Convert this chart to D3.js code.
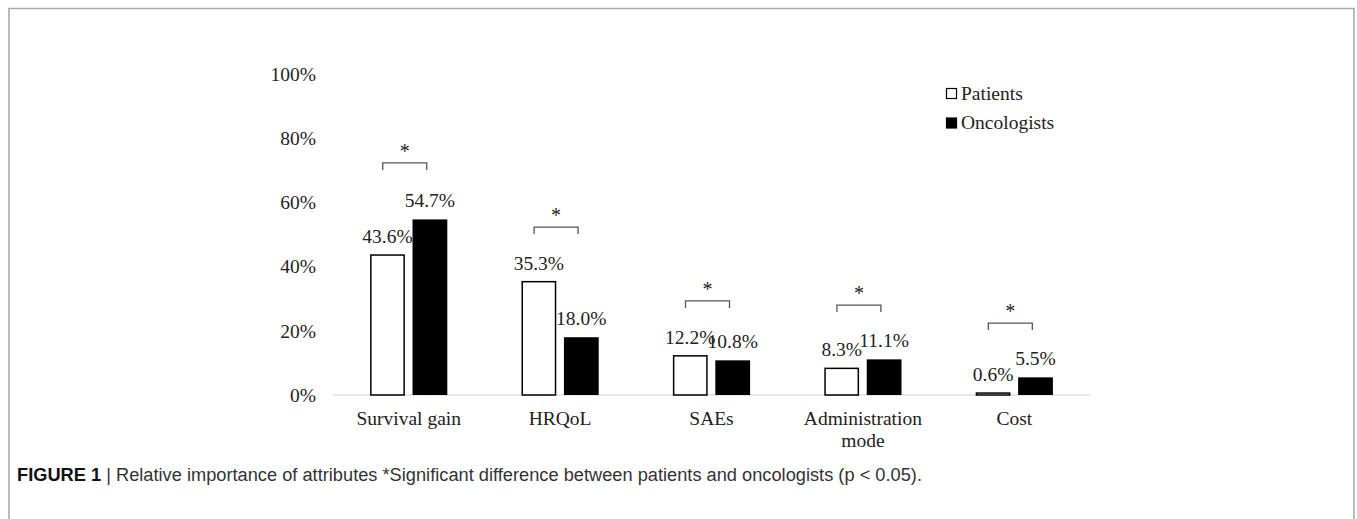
<!DOCTYPE html>
<html><head><meta charset="utf-8">
<script src="https://cdn.jsdelivr.net/npm/d3@7"></script>
<style>html,body{margin:0;padding:0;background:#fff;}</style>
</head><body>
<script>
const categories = ["Survival gain", "HRQoL", "SAEs", "Administration mode", "Cost"];
const series = ["Patients", "Oncologists"];
const patients = [43.6, 35.3, 12.2, 8.3, 0.6];
const oncologists = [54.7, 18.0, 10.8, 11.1, 5.5];
const yTicks = [0, 20, 40, 60, 80, 100];
const sigLevel = [72.3, 52.3, 29.3, 28.0, 22.4]; // bracket height, in % units
const caption = "Relative importance of attributes *Significant difference between patients and oncologists (p < 0.05).";

const W = 1357, H = 519;
const svg = d3.select("body").append("svg").attr("width", W).attr("height", H);
const serif = "'Liberation Serif','Times New Roman',serif";
const FS = 19.5;

// frame
svg.append("path").attr("d", `M9,${H} V8.5 H1354 V${H}`).attr("fill", "none")
  .attr("stroke", "#aaa").attr("stroke-width", 1.6);

const x0 = d3.scaleBand().domain(categories).range([333, 1090]).paddingInner(0.49).paddingOuter(0.245);
const x1 = d3.scaleBand().domain(series).range([0, x0.bandwidth()]).paddingInner(0.18);
const y = d3.scaleLinear().domain([0, 100]).range([395, 74]);

// y tick labels
svg.append("g").selectAll("text").data(yTicks).join("text")
  .attr("x", 316).attr("y", d => y(d)).attr("dy", "0.35em").attr("text-anchor", "end")
  .attr("font-family", serif).attr("font-size", FS).attr("fill", "#222")
  .text(d => d + "%");

// baseline
svg.append("line").attr("x1", 333).attr("x2", 1090).attr("y1", y(0)).attr("y2", y(0))
  .attr("stroke", "#d0d0d0").attr("stroke-width", 1.2);

const rows = categories.map((c, i) => ({c, vals: [
  {s: "Patients", v: patients[i]}, {s: "Oncologists", v: oncologists[i]}]}));

const g = svg.append("g").selectAll("g").data(rows).join("g")
  .attr("transform", d => `translate(${x0(d.c)},0)`);

g.selectAll("rect").data(d => d.vals).join("rect")
  .attr("x", d => x1(d.s) + (d.s === "Patients" ? 0.75 : 0))
  .attr("width", d => x1.bandwidth() - (d.s === "Patients" ? 1.5 : 0))
  .attr("y", d => y(d.v))
  .attr("height", d => y(0) - y(d.v))
  .attr("fill", d => d.s === "Patients" ? "#fff" : "#000")
  .attr("stroke", "#000").attr("stroke-width", d => d.s === "Patients" ? 1.5 : 0);

g.selectAll("text.val").data(d => d.vals).join("text").attr("class", "val")
  .attr("x", d => x1(d.s) + x1.bandwidth() / 2)
  .attr("y", d => y(d.v) - 12)
  .attr("text-anchor", "middle").attr("font-family", serif).attr("font-size", FS).attr("fill", "#222")
  .text(d => d.v.toFixed(1) + "%");

// category labels
svg.append("g").selectAll("text").data(categories).join("text")
  .attr("x", d => x0(d) + x0.bandwidth() / 2).attr("y", 425)
  .attr("text-anchor", "middle").attr("font-family", serif).attr("font-size", FS).attr("fill", "#222")
  .each(function(d) {
    const words = d === "Administration mode" ? ["Administration", "mode"] : [d];
    d3.select(this).selectAll("tspan").data(words).join("tspan")
      .attr("x", x0(d) + x0.bandwidth() / 2).attr("dy", (w, i) => i ? 22 : 0).text(w => w);
  });

// significance brackets
const sig = svg.append("g");
categories.forEach((c, i) => {
  const cx = x0(c) + x0.bandwidth() / 2 - 4;
  const yy = y(sigLevel[i]);
  sig.append("path").attr("d", `M${cx - 22},${yy + 7} V${yy} H${cx + 22} V${yy + 7}`)
    .attr("fill", "none").attr("stroke", "#555").attr("stroke-width", 1.3);
  sig.append("text").attr("x", cx).attr("y", yy - 5).attr("text-anchor", "middle")
    .attr("font-family", serif).attr("font-size", 20).attr("fill", "#222").text("*");
});

// legend
const leg = svg.append("g");
series.forEach((s, i) => {
  const ly = 88 + i * 29.5;
  leg.append("rect").attr("x", 946.5).attr("y", ly + 0.5).attr("width", 10).attr("height", 10)
    .attr("fill", i ? "#000" : "#fff").attr("stroke", "#000").attr("stroke-width", 1.2);
  leg.append("text").attr("x", 961).attr("y", ly + 11.5).attr("font-family", serif)
    .attr("font-size", FS).attr("fill", "#222").text(s);
});

// caption
const cap = svg.append("text").attr("x", 17).attr("y", 481)
  .attr("font-family", "'Liberation Sans Narrow','Liberation Sans',Arial,sans-serif").attr("font-size", 18);
cap.append("tspan").attr("font-weight", "bold").attr("fill", "#111").text("FIGURE 1");
cap.append("tspan").attr("fill", "#333").text(" | " + caption);
cap.attr("textLength", 905).attr("lengthAdjust", "spacingAndGlyphs");
</script>
</body></html>
